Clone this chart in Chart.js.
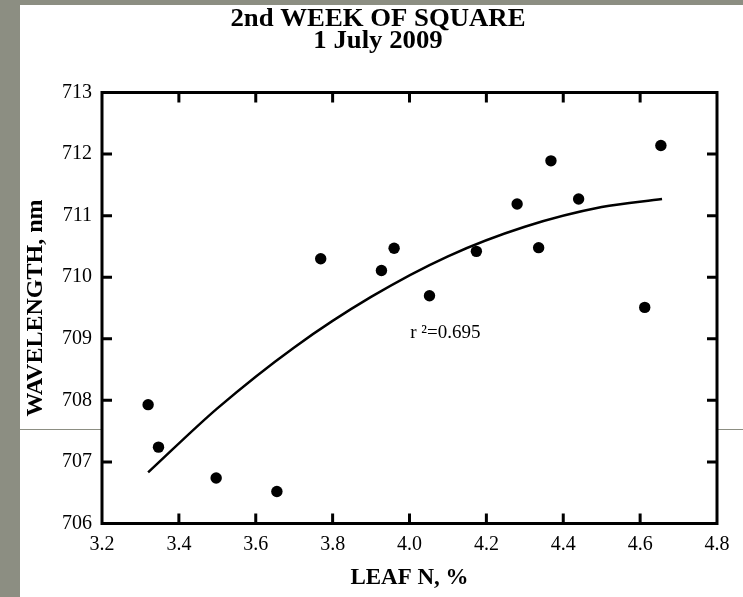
<!DOCTYPE html>
<html>
<head>
<meta charset="utf-8">
<script src="https://cdn.jsdelivr.net/npm/chart.js@4.4.1/dist/chart.umd.min.js"></script>
<style>
  html, body { margin: 0; padding: 0; }
  body { width: 743px; height: 597px; background: #8c8e82; position: relative; overflow: hidden; }
  .panel { position: absolute; left: 20px; top: 5px; width: 723px; height: 592px; background: #fff; }
</style>
</head>
<body>
<div class="panel"><canvas id="chart" width="723" height="592"></canvas></div>
<script>
// Leaf N (%) vs red-edge wavelength (nm), 2nd week of square
const leafN = [3.320, 3.347, 3.497, 3.655, 3.769, 3.927, 3.960, 4.052, 4.174, 4.280, 4.336, 4.368, 4.440, 4.612, 4.654];
const wavelength = [707.93, 707.24, 706.74, 706.52, 710.30, 710.11, 710.47, 709.70, 710.42, 711.19, 710.48, 711.89, 711.27, 709.51, 712.14];

// Fitted curve
const fitN = [3.32, 3.5, 3.7, 3.9, 4.1, 4.3, 4.5, 4.657];
const fitWave = [706.83, 707.87, 708.86, 709.68, 710.34, 710.82, 711.14, 711.27];

const titleLines = ['2nd WEEK OF SQUARE', '1 July 2009'];
const r2Label = 'r ²=0.695';
const r2Pos = { x: 4.002, y: 709.1 };

const serif = '"Liberation Serif", "Times New Roman", serif';

// Title, r² note, slide rule line and the boxed frame with inward ticks
const decorPlugin = {
    id: 'decor',
    beforeDraw(chart) {
        const { ctx, chartArea } = chart;
        ctx.save();
        ctx.strokeStyle = '#8c8e82';
        ctx.lineWidth = 1;
        ctx.beginPath();
        ctx.moveTo(0, 424.5);
        ctx.lineTo(chartArea.left, 424.5);
        ctx.moveTo(chartArea.right, 424.5);
        ctx.lineTo(chart.width, 424.5);
        ctx.stroke();
        ctx.restore();
    },
    afterDraw(chart) {
        const { ctx, chartArea } = chart;
        const xs = chart.scales.x, ys = chart.scales.y;
        const { left, right, top, bottom } = chartArea;
        ctx.save();

        // title set slightly condensed
        ctx.fillStyle = '#000';
        ctx.textAlign = 'center';
        ctx.textBaseline = 'middle';
        ctx.font = 'bold 25px ' + serif;
        ctx.save();
        ctx.translate(358, 0);
        ctx.scale(1.07, 1);
        ctx.fillText(titleLines[0], 0, 15);
        ctx.fillText(titleLines[1], 0, 37);
        ctx.restore();

        ctx.font = '19px ' + serif;
        ctx.textAlign = 'left';
        ctx.fillText(r2Label, xs.getPixelForValue(r2Pos.x), ys.getPixelForValue(r2Pos.y));

        ctx.strokeStyle = '#000';
        ctx.lineWidth = 3;
        ctx.strokeRect(left, top, right - left, bottom - top);

        const len = 10;
        ctx.beginPath();
        xs.ticks.forEach(t => {
            if (t.value <= xs.min + 1e-6 || t.value >= xs.max - 1e-6) return;
            const px = xs.getPixelForValue(t.value);
            ctx.moveTo(px, bottom); ctx.lineTo(px, bottom - len);
            ctx.moveTo(px, top); ctx.lineTo(px, top + len);
        });
        ys.ticks.forEach(t => {
            if (t.value <= ys.min || t.value >= ys.max) return;
            const py = ys.getPixelForValue(t.value);
            ctx.moveTo(left, py); ctx.lineTo(left + len, py);
            ctx.moveTo(right, py); ctx.lineTo(right - len, py);
        });
        ctx.stroke();
        ctx.restore();
    }
};

new Chart(document.getElementById('chart'), {
    type: 'scatter',
    data: {
        datasets: [
            {
                label: 'fit',
                data: fitN.map((x, i) => ({ x, y: fitWave[i] })),
                showLine: true,
                borderColor: '#000',
                borderWidth: 2.5,
                pointRadius: 0,
                cubicInterpolationMode: 'monotone'
            },
            {
                label: 'samples',
                data: leafN.map((x, i) => ({ x, y: wavelength[i] })),
                backgroundColor: '#000',
                borderColor: '#000',
                pointRadius: 5.7,
                borderWidth: 0
            }
        ]
    },
    options: {
        responsive: false,
        animation: false,
        layout: { padding: { left: 0, top: 87.5, right: 26, bottom: 0 } },
        plugins: { legend: { display: false }, tooltip: { enabled: false } },
        scales: {
            x: {
                type: 'linear',
                min: 3.2, max: 4.8,
                afterFit: s => { s.height = 73.5; },
                grid: { display: false, drawTicks: false },
                border: { display: false },
                ticks: {
                    stepSize: 0.2,
                    padding: 9,
                    color: '#000',
                    font: { family: serif, size: 20 },
                    callback: v => Number(v).toFixed(1)
                },
                title: {
                    display: true,
                    text: 'LEAF N, %',
                    color: '#000',
                    font: { family: serif, size: 23, weight: 'bold' },
                    padding: { top: 0, bottom: 5 }
                }
            },
            y: {
                type: 'linear',
                min: 706, max: 713,
                afterFit: s => { s.width = 82; },
                grid: { display: false, drawTicks: false },
                border: { display: false },
                ticks: {
                    stepSize: 1,
                    padding: 10,
                    color: '#000',
                    font: { family: serif, size: 20 }
                },
                title: {
                    display: true,
                    text: 'WAVELENGTH, nm',
                    color: '#000',
                    font: { family: serif, size: 24, weight: 'bold' },
                    padding: { top: 1, bottom: 0 }
                }
            }
        }
    },
    plugins: [decorPlugin]
});
</script>
</body>
</html>
